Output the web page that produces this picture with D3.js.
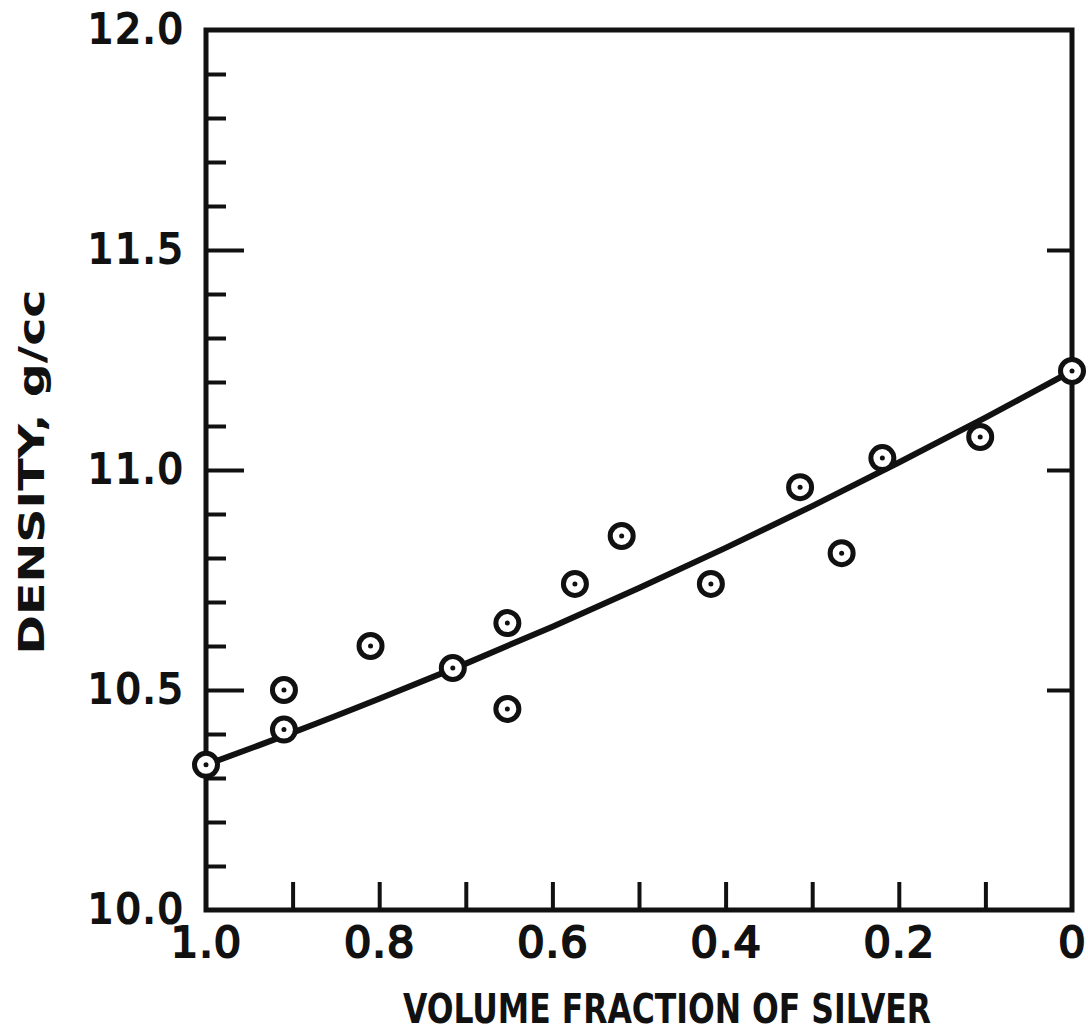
<!DOCTYPE html>
<html>
<head>
<meta charset="utf-8">
<script src="https://cdn.jsdelivr.net/npm/d3@7"></script>
<style>
  body { margin: 0; background: #fff; }
  svg { display: block; }
  .tick-label { font-family: "DejaVu Sans", sans-serif; fill: #111; stroke: #111; stroke-width: 2.2px; }
</style>
</head>
<body>
<svg id="chart" width="1088" height="1036"></svg>
<script>
// measured points: volume fraction of silver, density g/cc
var fraction = [1.0, 0.91, 0.91, 0.81, 0.715, 0.652, 0.652, 0.574, 0.52, 0.417, 0.314, 0.266, 0.219, 0.106, 0.0];
var density  = [10.33, 10.50, 10.41, 10.60, 10.55, 10.457, 10.652, 10.741, 10.85, 10.741, 10.961, 10.811, 11.027, 11.075, 11.225];

// fitted curve
var curveFraction = [1.0, 0.9, 0.8, 0.7, 0.6, 0.5, 0.4, 0.3, 0.2, 0.1, 0.0];
var curveDensity  = [10.33, 10.403, 10.48, 10.56, 10.644, 10.732, 10.823, 10.918, 11.017, 11.119, 11.225];

var xLabelValues = [1.0, 0.8, 0.6, 0.4, 0.2, 0];
var xLabelText   = ["1.0", "0.8", "0.6", "0.4", "0.2", "0"];
var xMinorValues = [0.9, 0.8, 0.7, 0.6, 0.5, 0.4, 0.3, 0.2, 0.1];
var yLabelValues = [10.0, 10.5, 11.0, 11.5, 12.0];
var yLabelText   = ["10.0", "10.5", "11.0", "11.5", "12.0"];
var yMinorValues = [10.1, 10.2, 10.3, 10.4, 10.6, 10.7, 10.8, 10.9, 11.1, 11.2, 11.3, 11.4, 11.6, 11.7, 11.8, 11.9];

var plot = { left: 206, right: 1072, top: 30, bottom: 910 };

var svg = d3.select("#chart");

var x = d3.scaleLinear().domain([1.0, 0]).range([plot.left, plot.right]);
var y = d3.scaleLinear().domain([10.0, 12.0]).range([plot.bottom, plot.top]);

function styleAxis(g) {
  g.select(".domain").remove();
  g.selectAll(".tick line").attr("stroke", "#111").attr("stroke-width", 4);
}

// left minor ticks
svg.append("g")
  .attr("transform", "translate(" + plot.left + ",0)")
  .call(d3.axisLeft(y).tickValues(yMinorValues).tickSize(-20).tickFormat(""))
  .call(styleAxis);

// left major ticks + labels
var yMajor = svg.append("g")
  .attr("transform", "translate(" + plot.left + ",0)")
  .call(d3.axisLeft(y).tickValues(yLabelValues).tickSize(-38).tickPadding(21)
    .tickFormat(function(d, i) { return yLabelText[i]; }))
  .call(styleAxis);
yMajor.selectAll(".tick text")
  .attr("class", "tick-label")
  .style("font-size", "40px")
  .style("letter-spacing", "2px");
yMajor.selectAll(".tick").filter(function(d) { return d === 10.0 || d === 12.0; })
  .select("line").remove();

// right ticks (majors only)
svg.append("g")
  .attr("transform", "translate(" + plot.right + ",0)")
  .call(d3.axisRight(y).tickValues([10.5, 11.0, 11.5]).tickSize(-25).tickFormat(""))
  .call(styleAxis);

// bottom ticks
svg.append("g")
  .attr("transform", "translate(0," + plot.bottom + ")")
  .call(d3.axisBottom(x).tickValues(xMinorValues).tickSize(-28).tickFormat(""))
  .call(styleAxis);

// bottom labels
var xLab = svg.append("g")
  .attr("transform", "translate(0," + plot.bottom + ")")
  .call(d3.axisBottom(x).tickValues(xLabelValues).tickSize(0).tickPadding(16)
    .tickFormat(function(d, i) { return xLabelText[i]; }))
  .call(styleAxis);
xLab.selectAll(".tick text")
  .attr("class", "tick-label")
  .style("font-size", "43px")
  .style("letter-spacing", "1px");

// frame
svg.append("rect")
  .attr("x", plot.left)
  .attr("y", plot.top)
  .attr("width", plot.right - plot.left)
  .attr("height", plot.bottom - plot.top)
  .attr("fill", "none")
  .attr("stroke", "#111")
  .attr("stroke-width", 5);

// fitted curve
var line = d3.line()
  .x(function(d) { return x(d[0]); })
  .y(function(d) { return y(d[1]); })
  .curve(d3.curveCatmullRom);

svg.append("path")
  .datum(d3.zip(curveFraction, curveDensity))
  .attr("d", line)
  .attr("fill", "none")
  .attr("stroke", "#111")
  .attr("stroke-width", 6);

// points: ring with a dot
var pts = svg.append("g").selectAll("g")
  .data(d3.zip(fraction, density))
  .join("g")
  .attr("transform", function(d) { return "translate(" + x(d[0]) + "," + y(d[1]) + ")"; });

pts.append("circle")
  .attr("r", 11.5)
  .attr("fill", "#fff")
  .attr("stroke", "#111")
  .attr("stroke-width", 5);

pts.append("circle")
  .attr("r", 2.5)
  .attr("fill", "#111");

// axis titles
svg.append("text")
  .attr("x", 667)
  .attr("y", 1023)
  .attr("text-anchor", "middle")
  .attr("textLength", 528)
  .attr("lengthAdjust", "spacingAndGlyphs")
  .style("font-family", "'DejaVu Sans Condensed', 'DejaVu Sans', sans-serif")
  .style("font-weight", "bold")
  .style("font-size", "40px")
  .attr("fill", "#111")
  .text("VOLUME FRACTION OF SILVER");

svg.append("text")
  .attr("transform", "translate(44,472) rotate(-90)")
  .attr("text-anchor", "middle")
  .attr("textLength", 365)
  .attr("lengthAdjust", "spacingAndGlyphs")
  .style("font-family", "'DejaVu Sans', sans-serif")
  .style("font-weight", "bold")
  .style("font-size", "36px")
  .attr("fill", "#111")
  .text("DENSITY, g/cc");
</script>
</body>
</html>
